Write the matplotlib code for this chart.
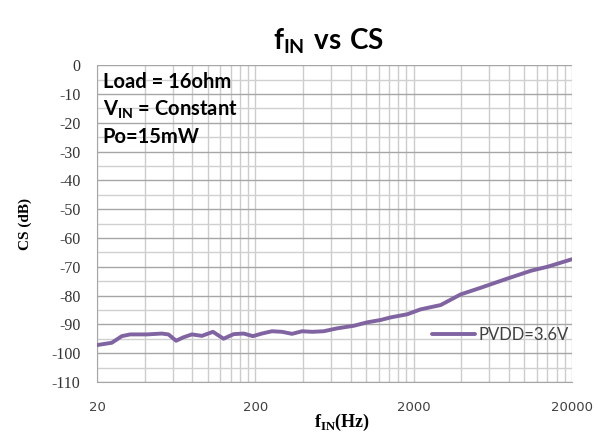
import matplotlib
matplotlib.use('Agg')
import matplotlib.pyplot as plt
from matplotlib.ticker import FixedLocator, NullFormatter

# curve
freq = [20, 24.8, 28.7, 32.4, 41.3, 51.3, 56.5, 63.2, 70.3, 79.5, 92, 108, 126, 146,
        169, 193, 220, 255, 295, 341, 395, 457, 541, 657, 838, 1019, 1236, 1430,
        1825, 2214, 2965, 3967, 5307, 7836, 11010, 14040, 20000]
cs_db = [-97.2, -96.4, -94.1, -93.5, -93.5, -93.2, -93.5, -95.7, -94.5, -93.5, -94.0,
         -92.6, -95.0, -93.4, -93.2, -94.1, -93.2, -92.4, -92.6, -93.3, -92.4, -92.6,
         -92.4, -91.4, -90.5, -89.3, -88.5, -87.6, -86.5, -84.8, -83.3, -79.6, -77.3,
         -74.1, -71.4, -70.0, -67.4]
series_name = 'PVDD=3.6V'

x_major = [20, 200, 2000, 20000]
x_labels = ['20', '200', '2000', '20000']
y_major = list(range(-110, 1, 10))
y_labels = [str(v) for v in y_major]
notes = ['Load = 16ohm', r'$\mathrm{V}_{\mathrm{IN}}$ = Constant', 'Po=15mW']

plt.rcParams['mathtext.fontset'] = 'custom'
plt.rcParams['mathtext.rm'] = 'Lato:bold'
plt.rcParams['mathtext.bf'] = 'Liberation Serif:bold'

fig = plt.figure(figsize=(5.97, 4.37), dpi=100)
ax = fig.add_axes([0.1625, 0.126, 0.7955, 0.725])

ax.plot(freq, cs_db, color='#8064A2', lw=2.8, label=series_name, zorder=3,
        solid_joinstyle='round', solid_capstyle='round')
ax.set_xscale('log')
ax.set_xlim(20, 20000)
ax.set_ylim(-110, 0)

minors = [20 * k * 10 ** n for n in range(3) for k in range(2, 10)]
ax.xaxis.set_major_locator(FixedLocator(x_major))
ax.xaxis.set_minor_locator(FixedLocator(minors))
ax.xaxis.set_minor_formatter(NullFormatter())
ax.set_xticks(x_major, x_labels)
ax.set_yticks(y_major, y_labels)
ax.set_yticks(list(range(-105, 0, 10)), minor=True)

ax.xaxis.grid(True, which='both', color='#cccccc', lw=1.0)
ax.yaxis.grid(True, which='major', color='#a6a6a6', lw=1.0)
ax.yaxis.grid(True, which='minor', color='#d0d0d0', lw=1.0)
ax.set_axisbelow(True)
for s in ['top', 'right']:
    ax.spines[s].set_visible(False)
for s in ['left', 'bottom']:
    ax.spines[s].set_color('#a6a6a6')
ax.tick_params(which='both', length=0)
ax.tick_params(axis='y', pad=12, labelcolor='#333333')
ax.tick_params(axis='x', pad=14, labelcolor='#404040')
for t in ax.get_yticklabels():
    t.set_fontfamily('Liberation Serif')
    t.set_fontsize(11.5)
for t in ax.get_xticklabels():
    t.set_fontfamily('DejaVu Sans')
    t.set_fontsize(9.5)

ax.set_ylabel('CS (dB)', family='Liberation Serif', weight='bold', fontsize=11, labelpad=14)
fig.text(0.573, 0.022, r'$\mathbf{f}_{\mathbf{IN}}\mathbf{(Hz)}$', fontsize=13, ha='center')

fig.text(0.55, 0.905, r'$\mathrm{f}_{\mathrm{IN}}\mathrm{\ vs\ CS}$', fontsize=20, ha='center', va='center')

for i, n in enumerate(notes):
    fig.text(0.172, 0.812 - i * 0.063, n, family='Lato', weight='bold', fontsize=14.5, va='center')

leg = ax.legend(loc='lower right', bbox_to_anchor=(1.025, 0.076), frameon=False,
                prop={'family': 'Lato', 'size': 12}, handlelength=2.6, handletextpad=0.2)
for t in leg.get_texts():
    t.set_color('#404040')

fig.savefig('out.png', dpi=100)
